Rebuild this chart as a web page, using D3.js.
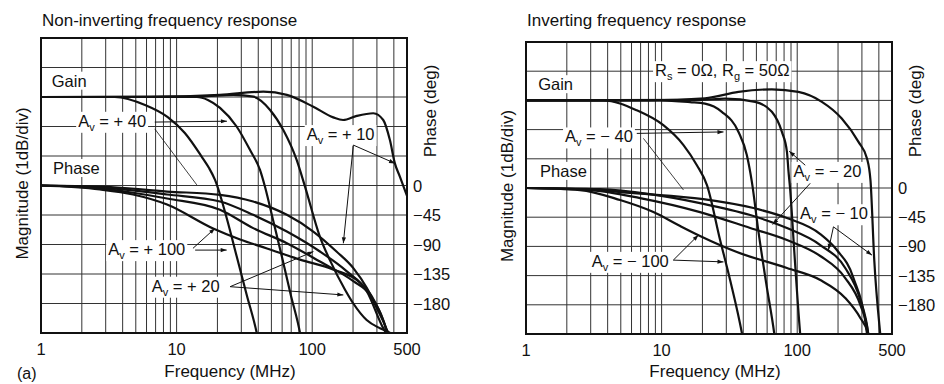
<!DOCTYPE html>
<html>
<head>
<meta charset="utf-8">
<script src="https://cdn.jsdelivr.net/npm/d3@7"></script>
<style>
body { margin: 0; background: #fff; }
svg text { font-family: "Liberation Sans", Arial, sans-serif; fill: #111; }
</style>
</head>
<body>
<svg id="chart" width="944" height="384"></svg>
<script>
// frequency axis (MHz), log grid
let freq_ticks = [1, 10, 100, 500];
let freq_grid = [1, 2, 3, 4, 5, 6, 7, 8, 9, 10, 20, 30, 40, 50, 60, 70, 80, 90, 100, 200, 300, 400, 500];
let phase_ticks = [0, -45, -90, -135, -180];

// non-inverting, gain [MHz, dB]
let ni_gain_p100 = [[1, 0], [3.5, 0], [5.85, -0.27], [8.6, -0.68], [11.5, -1.22], [15.3, -2.02], [17.3, -2.4], [19.2, -2.81], [23.4, -4.1], [27.7, -5.39], [32.9, -6.71], [39, -8], [41, -8.5]];
let ni_gain_p40 = [[1, 0], [14.1, 0], [17, -0.1], [20.9, -0.37], [27.7, -1.0], [34.8, -1.8], [41.2, -2.47], [44.9, -3.05], [51, -4.1], [59.6, -5.39], [69.5, -6.71], [81.3, -8], [85, -8.5]];
let ni_gain_p20 = [[1, 0], [15, 0.02], [26.2, 0.07], [36.8, 0.01], [48.9, -0.44], [61.2, -1.12], [76.9, -2.14], [88.5, -3.04], [114, -4.74], [135, -5.53], [175, -6.54], [201, -7.0], [252, -7.56], [316, -7.84], [375, -8], [420, -8.2]];
let ni_gain_p10 = [[1, 0], [6.4, 0], [20.9, 0.07], [43.6, 0.18], [65, 0.07], [101.9, -0.33], [143, -0.69], [169, -0.78], [213, -0.64], [282, -0.55], [334, -0.78], [374, -1.46], [407, -2.25], [443, -2.7], [500, -3.35]];

// non-inverting, phase [MHz, deg]
let ni_phase_p10 = [[1, 0], [2.72, -1.5], [8.5, -9.2], [20.9, -14.2], [36.7, -24.4], [65, -44.7], [101.8, -70.2], [151, -100.7], [201, -126], [253, -156.6], [299, -187], [355, -220], [370, -230]];
let ni_phase_p20 = [[1, 0], [2.72, -3], [8.5, -13.7], [20.9, -24.4], [36.7, -44.7], [65, -70.2], [114, -100.7], [180, -131], [253, -161.7], [334, -217.6], [363, -230]];
let ni_phase_p40 = [[1, 0], [2.72, -4.6], [8.5, -19.8], [20.9, -37], [36.7, -65], [65, -88], [114, -116], [201, -146], [266, -166.7], [355, -222.6], [365, -232]];
let ni_phase_p100 = [[1, 0], [2.72, -6.1], [4.77, -13.7], [8.5, -29], [18.6, -65.6], [29.4, -82.4], [46.4, -96], [81.3, -113], [142, -128], [225, -148], [275, -169], [355, -222.6], [365, -232]];

// inverting, gain [MHz, dB]
let inv_gain_m100 = [[1, 0], [3.72, 0], [6.56, -0.34], [10.3, -0.85], [14.5, -1.53], [18.2, -2.22], [21.6, -2.9], [27, -4.78], [32, -6.15], [39.1, -7.97], [41, -8.5]];
let inv_gain_m40 = [[1, 0], [9.75, 0], [16.2, -0.06], [20.9, -0.11], [27.8, -0.39], [36.9, -1.08], [42.5, -1.87], [46.3, -2.79], [51.6, -4.44], [59, -6.25], [67.6, -7.96], [70, -8.5]];
let inv_gain_m20 = [[1, 0], [19.2, 0.02], [29.4, 0.06], [49, -0.05], [65, -0.39], [77.1, -1.08], [84, -1.76], [86.3, -2.45], [88.8, -3.07], [95, -5.13], [105, -7.96], [108, -8.6]];
let inv_gain_m10 = [[1, 0], [8.2, 0], [20.9, 0.07], [36.9, 0.29], [65, 0.38], [102, 0.29], [152, -0.05], [213, -0.62], [283, -1.42], [327, -1.99], [347, -2.74], [370, -5.47], [409, -7.97], [420, -8.5]];

// inverting, phase [MHz, deg]
let inv_phase_m10 = [[1, 0], [2.5, -1.7], [6.56, -8.3], [20.3, -17.1], [47.6, -30.9], [84, -46.3], [148, -71], [196, -95.6], [260, -138.7], [327, -224.9], [330, -232]];
let inv_phase_m20 = [[1, 0], [3.52, -1.7], [8.2, -9.4], [19.2, -23.2], [45, -41.7], [84, -61.7], [148, -87.9], [226, -123.3], [292, -172.6], [334, -225], [337, -232]];
let inv_phase_m40 = [[1, 0], [2.97, -3.2], [6.94, -15.5], [19.2, -37.1], [45, -61.7], [84, -80.2], [148, -104.8], [226, -138.7], [292, -180.3], [334, -225], [337, -232]];
let inv_phase_m100 = [[1, 0], [2.5, -3.2], [4.94, -18.6], [8.7, -37.1], [13.7, -58.7], [19.2, -74], [35.9, -98.7], [84, -123.3], [148, -141.8], [226, -169.5], [292, -200.3], [334, -225], [337, -232]];

let svg = d3.select("#chart");

let defs = svg.append("defs");
defs.append("marker")
    .attr("id", "arrowhead")
    .attr("viewBox", "0 0 10 10")
    .attr("refX", 10)
    .attr("refY", 5)
    .attr("markerWidth", 8)
    .attr("markerHeight", 6)
    .attr("markerUnits", "userSpaceOnUse")
    .attr("orient", "auto")
    .append("path")
    .attr("d", "M0,1.5 L10,5 L0,8.5 Z")
    .attr("fill", "#111");

// white patch behind a label so the grid does not run through it
function back_box(g, t) {
    let b = t.node().getBBox();
    g.insert("rect", function() { return t.node(); })
        .attr("x", b.x - 2)
        .attr("y", b.y)
        .attr("width", b.width + 4)
        .attr("height", b.height)
        .attr("fill", "#fff");
}

function av_label(g, x, y, value) {
    let t = g.append("text")
        .attr("x", x)
        .attr("y", y)
        .style("font-size", "16.5px");
    t.append("tspan").text("A");
    t.append("tspan").attr("dy", 4).style("font-size", "11px").text("v");
    t.append("tspan").attr("dy", -4).text(" = " + value);
    back_box(g, t);
}

function plain_label(g, x, y, value) {
    let t = g.append("text")
        .attr("x", x)
        .attr("y", y)
        .style("font-size", "16.5px")
        .text(value);
    back_box(g, t);
}

function rs_label(g, x, y) {
    let t = g.append("text")
        .attr("x", x)
        .attr("y", y)
        .style("font-size", "16.5px");
    t.append("tspan").text("R");
    t.append("tspan").attr("dy", 4).style("font-size", "11px").text("s");
    t.append("tspan").attr("dy", -4).text(" = 0\u03a9, R");
    t.append("tspan").attr("dy", 4).style("font-size", "11px").text("g");
    t.append("tspan").attr("dy", -4).text(" = 50\u03a9");
    back_box(g, t);
}

function draw_panel(cfg) {
    let width = cfg.width;
    let height = cfg.height;

    let x = d3.scaleLog().domain([1, 500]).range([0, width]);
    let y_mag = d3.scaleLinear().domain([2, -8]).range([0, height]);
    let y_phase = d3.scaleLinear().domain([225, -225]).range([0, height]);

    let g = svg.append("g")
        .attr("transform", "translate(" + cfg.left + "," + cfg.top + ")");

    defs.append("clipPath")
        .attr("id", cfg.id + "_clip")
        .append("rect")
        .attr("width", width)
        .attr("height", height);

    // grid
    g.append("g")
        .selectAll("line")
        .data(freq_grid)
        .join("line")
        .attr("x1", function(d) { return x(d); })
        .attr("x2", function(d) { return x(d); })
        .attr("y1", 0)
        .attr("y2", height)
        .attr("stroke", "#333")
        .attr("stroke-width", 1);

    g.append("g")
        .selectAll("line")
        .data(d3.range(2, -9, -1))
        .join("line")
        .attr("x1", 0)
        .attr("x2", width)
        .attr("y1", function(d) { return y_mag(d); })
        .attr("y2", function(d) { return y_mag(d); })
        .attr("stroke", "#333")
        .attr("stroke-width", 1);

    g.append("rect")
        .attr("width", width)
        .attr("height", height)
        .attr("fill", "none")
        .attr("stroke", "#111")
        .attr("stroke-width", 2);

    // labels inside the plot
    cfg.notes.forEach(function(n) {
        let px = x(n.f);
        let py = y_mag(n.db);
        if (n.kind === "av") av_label(g, px, py, n.text);
        else if (n.kind === "rs") rs_label(g, px, py);
        else plain_label(g, px, py, n.text);
    });

    let plot = g.append("g").attr("clip-path", "url(#" + cfg.id + "_clip)");

    let gain_line = d3.line()
        .x(function(d) { return x(d[0]); })
        .y(function(d) { return y_mag(d[1]); })
        .curve(d3.curveMonotoneX);

    let phase_line = d3.line()
        .x(function(d) { return x(d[0]); })
        .y(function(d) { return y_phase(d[1]); })
        .curve(d3.curveMonotoneX);

    plot.selectAll(".phase")
        .data(cfg.phase)
        .join("path")
        .attr("class", "phase")
        .attr("d", phase_line)
        .attr("fill", "none")
        .attr("stroke", "#111")
        .attr("stroke-width", 2.2);

    plot.selectAll(".gain")
        .data(cfg.gain)
        .join("path")
        .attr("class", "gain")
        .attr("d", gain_line)
        .attr("fill", "none")
        .attr("stroke", "#111")
        .attr("stroke-width", 2.2);

    // pointer lines
    g.append("g")
        .selectAll("line")
        .data(cfg.arrows)
        .join("line")
        .attr("x1", function(d) { return x(d[0][0]); })
        .attr("y1", function(d) { return y_mag(d[0][1]); })
        .attr("x2", function(d) { return x(d[1][0]); })
        .attr("y2", function(d) { return y_mag(d[1][1]); })
        .attr("stroke", "#111")
        .attr("stroke-width", function(d) { return d[2] ? 0.8 : 1; })
        .attr("marker-end", function(d) { return d[2] ? null : "url(#arrowhead)"; });

    // axes text
    g.append("g")
        .selectAll("text")
        .data(freq_ticks)
        .join("text")
        .attr("x", function(d) { return x(d); })
        .attr("y", height + 22)
        .attr("text-anchor", "middle")
        .style("font-size", "16.5px")
        .text(function(d) { return d; });

    g.append("g")
        .selectAll("text")
        .data(phase_ticks)
        .join("text")
        .attr("x", width + 6)
        .attr("y", function(d) { return y_phase(d) + 6; })
        .style("font-size", "16.5px")
        .text(function(d) { return d < 0 ? "\u2212" + Math.abs(d) : d; });

    g.append("text")
        .attr("x", 1)
        .attr("y", 26 - cfg.top)
        .style("font-size", "17px")
        .text(cfg.title);

    g.append("text")
        .attr("x", 189)
        .attr("y", 377 - cfg.top)
        .attr("text-anchor", "middle")
        .style("font-size", "17px")
        .text("Frequency (MHz)");

    g.append("text")
        .attr("transform", "translate(-13," + (height / 2 - 2) + ") rotate(-90)")
        .attr("text-anchor", "middle")
        .style("font-size", "17px")
        .text("Magnitude (1dB/div)");

    g.append("text")
        .attr("transform", "translate(" + (width + 29) + "," + (111 - cfg.top) + ") rotate(-90)")
        .attr("text-anchor", "middle")
        .style("font-size", "17px")
        .text("Phase (deg)");
}

draw_panel({
    id: "noninv",
    title: "Non-inverting frequency response",
    left: 41, top: 38, width: 366, height: 295,
    gain: [ni_gain_p100, ni_gain_p40, ni_gain_p20, ni_gain_p10],
    phase: [ni_phase_p10, ni_phase_p20, ni_phase_p40, ni_phase_p100],
    notes: [
        {kind: "text", text: "Gain", f: 1.2, db: 0.35},
        {kind: "text", text: "Phase", f: 1.226, db: -2.61},
        {kind: "av", text: "+ 40", f: 1.88, db: -1.01},
        {kind: "av", text: "+ 10", f: 91, db: -1.46},
        {kind: "av", text: "+ 100", f: 3.13, db: -5.36},
        {kind: "av", text: "+ 20", f: 6.55, db: -6.6}
    ],
    arrows: [
        [[6.9, -0.85], [23.5, -0.82]],
        [[6.9, -1.08], [14.1, -2.98], true],
        [[201, -1.63], [408, -2.25]],
        [[201, -1.63], [169.6, -4.96]],
        [[13.2, -5.13], [19.2, -4.45]],
        [[13.7, -5.19], [23.4, -5.19]],
        [[24.8, -6.43], [102, -5.24]],
        [[24.8, -6.43], [169.6, -6.71]]
    ]
});

draw_panel({
    id: "inv",
    title: "Inverting frequency response",
    left: 526, top: 42, width: 366, height: 292,
    gain: [inv_gain_m100, inv_gain_m40, inv_gain_m20, inv_gain_m10],
    phase: [inv_phase_m10, inv_phase_m20, inv_phase_m40, inv_phase_m100],
    notes: [
        {kind: "text", text: "Gain", f: 1.23, db: 0.35},
        {kind: "text", text: "Phase", f: 1.27, db: -2.62},
        {kind: "rs", f: 8.95, db: 0.83},
        {kind: "av", text: "\u2212 40", f: 1.94, db: -1.44},
        {kind: "av", text: "\u2212 20", f: 94, db: -2.62},
        {kind: "av", text: "\u2212 10", f: 105, db: -4.07},
        {kind: "av", text: "\u2212 100", f: 3.05, db: -5.70}
    ],
    arrows: [
        [[6.56, -1.13], [28.6, -1.08]],
        [[7.34, -1.30], [14.5, -3.07], true],
        [[114.6, -2.22], [87.3, -1.74]],
        [[124.7, -2.84], [65.9, -4.25]],
        [[185, -4.33], [170, -5.12]],
        [[185, -4.33], [356, -5.30]],
        [[12.2, -5.47], [18.7, -4.61]],
        [[12.2, -5.47], [28.6, -5.53]]
    ]
});

svg.append("text")
    .attr("x", 17)
    .attr("y", 379)
    .style("font-size", "16px")
    .text("(a)");
</script>
</body>
</html>
